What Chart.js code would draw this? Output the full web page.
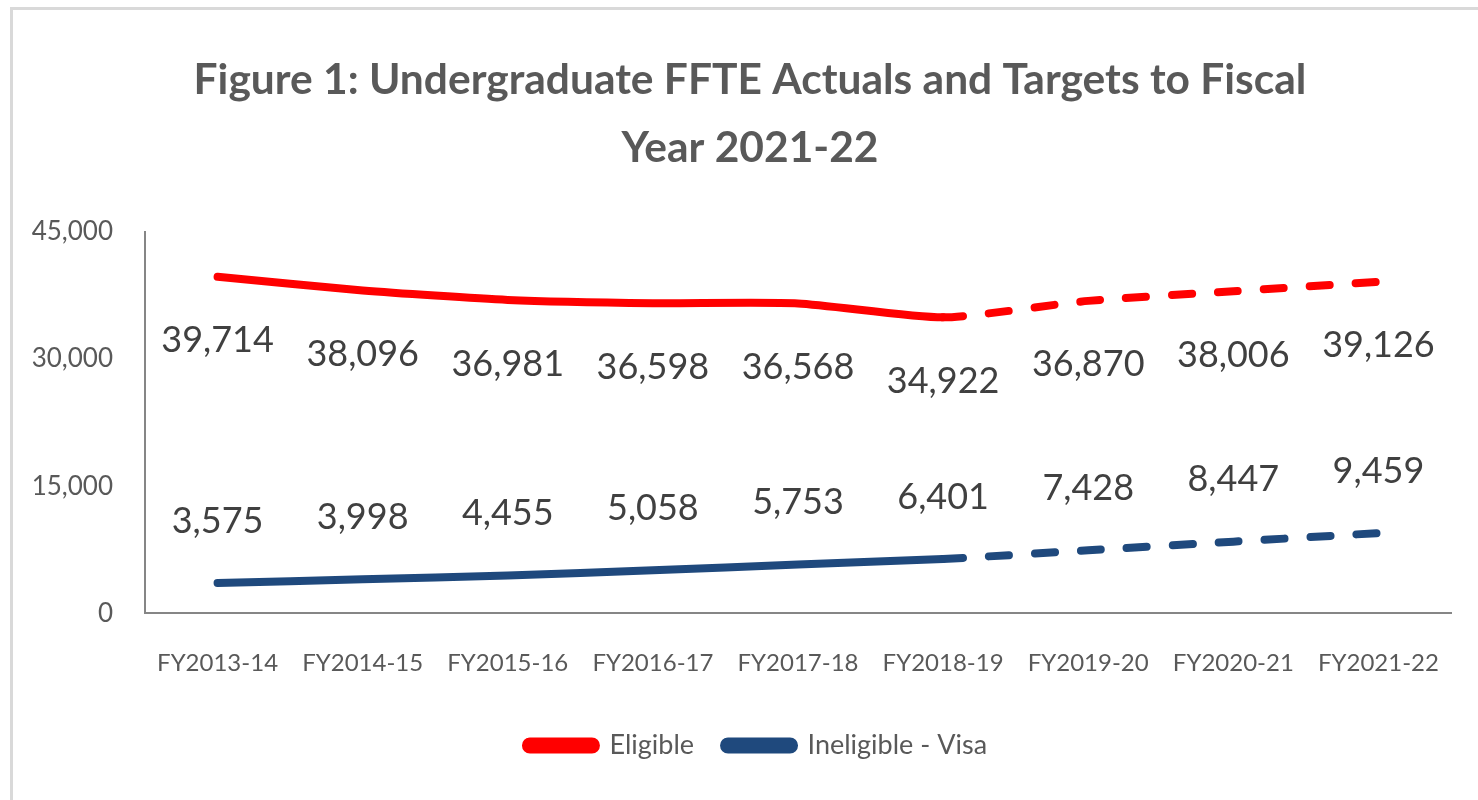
<!DOCTYPE html>
<html>
<head>
<meta charset="utf-8">
<script src="https://cdn.jsdelivr.net/npm/chart.js@4"></script>
<style>
  html, body { margin: 0; padding: 0; background: #fff; overflow: hidden; }
  #frame {
    position: absolute; left: 10px; top: 7px;
    width: 1480px; height: 800px;
    border: 3px solid #d9d9d9; box-sizing: border-box;
  }
  #frame canvas { display: block; }
</style>
</head>
<body>
<div id="frame"><canvas id="fteChart" width="1474" height="794"></canvas></div>
<script>
const years = ['FY2013-14', 'FY2014-15', 'FY2015-16', 'FY2016-17', 'FY2017-18',
  'FY2018-19', 'FY2019-20', 'FY2020-21', 'FY2021-22'];
const eligible = [39714, 38096, 36981, 36598, 36568, 34922, 36870, 38006, 39126];
const ineligible = [3575, 3998, 4455, 5058, 5753, 6401, 7428, 8447, 9459];
const yTicks = [0, 15000, 30000, 45000];
const lastActual = 5; // index of FY2018-19, targets after this are dashed

const textGray = '#595959';
const fontName = 'Lato, "Liberation Sans", sans-serif';

// draws the value labels under/over each point
const valueLabels = {
  id: 'valueLabels',
  afterDatasetsDraw(chart) {
    const ctx = chart.ctx;
    ctx.save();
    ctx.font = '36px ' + fontName;
    ctx.fillStyle = '#404040';
    ctx.textAlign = 'center';
    ctx.textBaseline = 'middle';
    chart.data.datasets.forEach((ds, i) => {
      const meta = chart.getDatasetMeta(i);
      meta.data.forEach((pt, j) => {
        ctx.fillText(ds.data[j].toLocaleString('en-US'), pt.x, pt.y + ds.labelOffset);
      });
    });
    ctx.restore();
  }
};

// title and legend are centred on the whole frame, not on the plot
const recentre = {
  id: 'recentre',
  afterLayout(chart) {
    if (chart.titleBlock) chart.titleBlock.left = 36;
    if (chart.legend) chart.legend.left = 49;
  }
};

const dashAfter = ctx => ctx.p0DataIndex >= lastActual ? [20, 26] : undefined;

new Chart(document.getElementById('fteChart'), {
  type: 'line',
  data: {
    labels: years,
    datasets: [
      {
        label: 'Eligible',
        data: eligible,
        borderColor: '#ff0000',
        backgroundColor: '#ff0000',
        labelOffset: 64,
        segment: { borderDash: dashAfter }
      },
      {
        label: 'Ineligible - Visa',
        data: ineligible,
        borderColor: '#1f497d',
        backgroundColor: '#1f497d',
        labelOffset: -62,
        segment: { borderDash: dashAfter }
      }
    ]
  },
  options: {
    responsive: false,
    animation: false,
    layout: { padding: { top: 36, right: 36, bottom: 35, left: 0 } },
    elements: {
      line: { borderWidth: 8, tension: 0.2, borderCapStyle: 'round', borderJoinStyle: 'round' },
      point: { radius: 0, hoverRadius: 0 }
    },
    scales: {
      x: {
        offset: true,
        grid: { display: false, offset: true },
        border: { display: true, color: '#868686', width: 2 },
        afterFit: scale => { scale.height -= 4; },
        ticks: { color: textGray, font: { family: fontName, size: 24 }, padding: 28, maxRotation: 0 }
      },
      y: {
        min: 0,
        max: 45000,
        afterBuildTicks: scale => { scale.ticks = yTicks.map(v => ({ value: v })); },
        afterFit: scale => { scale.width = 132; },
        grid: { display: false },
        border: { display: true, color: '#868686', width: 2 },
        ticks: {
          color: textGray,
          font: { family: fontName, size: 26 },
          padding: 24,
          callback: v => v.toLocaleString('en-US')
        }
      }
    },
    plugins: {
      title: {
        display: true,
        text: ['Figure 1: Undergraduate FFTE Actuals and Targets to Fiscal', 'Year 2021-22'],
        color: textGray,
        font: { family: fontName, size: 42.5, weight: 'bold', lineHeight: 1.6 },
        padding: { top: 0, bottom: 50 }
      },
      legend: {
        position: 'bottom',
        labels: {
          color: textGray,
          font: { family: fontName, size: 27 },
          boxWidth: 70,
          boxHeight: 8,
          useBorderRadius: true,
          borderRadius: 4,
          padding: 30
        }
      },
      tooltip: { enabled: false }
    }
  },
  plugins: [valueLabels, recentre]
});
</script>
</body>
</html>
